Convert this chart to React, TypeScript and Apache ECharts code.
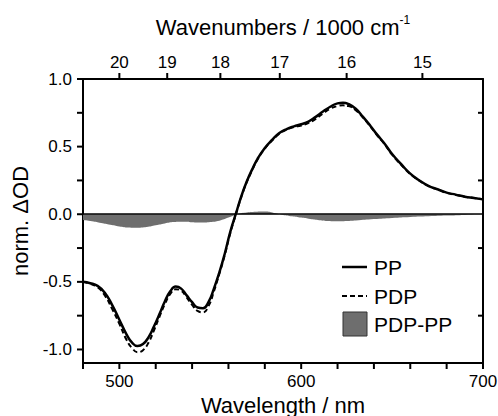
import React, { useEffect, useRef } from "react";
import * as echarts from "echarts";

// Wavelength grid (nm) for the PP and PDP traces
const wavelengths = [
  480, 484, 488, 492, 496, 500, 504, 507, 510, 513, 516, 519, 522, 525, 528, 531, 534, 537, 540, 543, 546, 549,
  552, 555, 558, 561, 564, 567, 570, 573, 576, 580, 584, 588, 592, 596, 600, 604, 608, 612, 616, 620, 623, 626,
  630, 634, 638, 642, 646, 650, 655, 660, 665, 670, 675, 680, 685, 690, 695, 700,
];
const ppValues = [
  -0.5, -0.51, -0.53, -0.58, -0.67, -0.78, -0.89, -0.95, -0.975, -0.96, -0.91, -0.83, -0.74, -0.645, -0.57, -0.535,
  -0.55, -0.6, -0.65, -0.69, -0.695, -0.65, -0.55, -0.43, -0.29, -0.13, 0.0, 0.13, 0.24, 0.33, 0.41, 0.49, 0.55, 0.6,
  0.63, 0.65, 0.665, 0.685, 0.72, 0.76, 0.795, 0.82, 0.825, 0.815, 0.78, 0.72, 0.655, 0.585, 0.52, 0.445, 0.37, 0.3,
  0.25, 0.21, 0.185, 0.16, 0.145, 0.13, 0.12, 0.11,
];
const pdpValues = [
  -0.5, -0.515, -0.54, -0.6, -0.7, -0.81, -0.93, -0.99, -1.02, -1.005, -0.95, -0.86, -0.76, -0.665, -0.59, -0.555,
  -0.565, -0.615, -0.67, -0.715, -0.725, -0.68, -0.57, -0.44, -0.3, -0.14, -0.005, 0.125, 0.235, 0.325, 0.405, 0.485,
  0.545, 0.595, 0.625, 0.645, 0.655, 0.675, 0.705, 0.745, 0.78, 0.8, 0.805, 0.8, 0.77, 0.715, 0.65, 0.58, 0.515, 0.44,
  0.365, 0.297, 0.248, 0.208, 0.183, 0.158, 0.143, 0.13, 0.12, 0.11,
];

// Difference trace PDP-PP
const diffWavelengths = [
  480, 485, 490, 495, 500, 505, 510, 515, 520, 525, 530, 535, 540, 545, 550, 555, 560, 565, 570, 575, 580, 585, 590,
  595, 600, 605, 610, 615, 620, 625, 630, 640, 650, 660, 670, 680, 690, 700,
];
const diffValues = [
  -0.042, -0.052, -0.065, -0.078, -0.09, -0.098, -0.1, -0.095, -0.082, -0.068, -0.058, -0.056, -0.06, -0.062, -0.058,
  -0.048, -0.025, 0.0, 0.012, 0.018, 0.02, 0.01, -0.005, -0.015, -0.025, -0.035, -0.044, -0.05, -0.052, -0.05, -0.046,
  -0.036, -0.027, -0.02, -0.015, -0.01, -0.005, 0.0,
];

// Axis ticks
const wavelengthTicks = [480, 500, 520, 540, 560, 580, 600, 620, 640, 660, 680, 700];
const wavelengthLabels = [500, 600, 700];
const wavenumberLabels = [20, 19, 18, 17, 16, 15]; // 1000 cm^-1
const yTicks = [-1, -0.75, -0.5, -0.25, 0, 0.25, 0.5, 0.75, 1];
const yLabels = [-1, -0.5, 0, 0.5, 1];
const yRightTicks = [-0.75, -0.25, 0.25, 0.75];

const X_MIN = 480;
const X_MAX = 700;
const Y_MIN = -1.1;
const Y_MAX = 1.0;

const FONT = "'Liberation Sans', Arial, sans-serif";

function axisLine() {
  return { show: true, onZero: false, lineStyle: { color: "#000", width: 2 } };
}

// Tick marks drawn through the axes' scales with a custom series
function tickSeries(values: number[], side: string, len: number) {
  const data = values.map((v) =>
    side === "bottom" ? [v, Y_MIN] : side === "top" ? [v, Y_MAX] : side === "left" ? [X_MIN, v] : [X_MAX, v]
  );
  return {
    type: "custom",
    clip: false,
    z: 10,
    data,
    renderItem: (_p: any, api: any) => {
      const p = api.coord([api.value(0), api.value(1)]);
      let dx = 0;
      let dy = 0;
      if (side === "bottom") dy = len;
      else if (side === "top") dy = -len;
      else dx = -len; // left: outward; right: inward
      return {
        type: "line",
        shape: { x1: p[0], y1: p[1], x2: p[0] + dx, y2: p[1] + dy },
        style: { stroke: "#000", lineWidth: 2 },
      };
    },
  };
}

export default function App() {
  const ref = useRef<HTMLDivElement>(null);
  useEffect(() => {
    if (!ref.current) return;
    const chart = echarts.init(ref.current, null, { renderer: "svg" });
    const wnPositions = wavenumberLabels.map((k) => 10000 / k);
    chart.setOption({
      animation: false,
      backgroundColor: "#fff",
      grid: { left: 83, right: 15, top: 79, bottom: 53, outerBoundsMode: "none" },
      xAxis: [
        {
          type: "value",
          position: "bottom",
          min: X_MIN,
          max: X_MAX,
          axisLine: axisLine(),
          axisTick: { show: false },
          axisLabel: {
            customValues: wavelengthLabels,
            color: "#000",
            fontSize: 17,
            fontFamily: FONT,
            margin: 10,
          },
          splitLine: { show: false },
          name: "Wavelength / nm",
          nameLocation: "middle",
          nameGap: 28,
          nameTextStyle: { color: "#000", fontSize: 22, fontFamily: FONT },
        },
        {
          type: "value",
          position: "top",
          min: X_MIN,
          max: X_MAX,
          axisLine: axisLine(),
          axisTick: { show: false },
          axisLabel: {
            customValues: wnPositions,
            formatter: (v: number) => String(Math.round(10000 / v)),
            color: "#000",
            fontSize: 17,
            fontFamily: FONT,
            margin: 8,
          },
          splitLine: { show: false },
          name: "{a|Wavenumbers / 1000 cm}{s|-1}",
          nameLocation: "middle",
          nameGap: 41,
          nameTextStyle: {
            color: "#000",
            fontFamily: FONT,
            rich: {
              a: { fontSize: 22, fontFamily: FONT, color: "#000", lineHeight: 24, verticalAlign: "bottom" },
              s: { fontSize: 12, fontFamily: FONT, color: "#000", lineHeight: 24, verticalAlign: "top" },
            },
          },
        },
      ],
      yAxis: [
        {
          type: "value",
          position: "left",
          min: Y_MIN,
          max: Y_MAX,
          axisLine: axisLine(),
          axisTick: { show: false },
          axisLabel: {
            customValues: yLabels,
            formatter: (v: number) => v.toFixed(1),
            color: "#000",
            fontSize: 17,
            fontFamily: FONT,
            margin: 11,
          },
          splitLine: { show: false },
          name: "norm. \u0394OD",
          nameLocation: "middle",
          nameGap: 46,
          nameTextStyle: { color: "#000", fontSize: 22, fontFamily: FONT },
        },
        {
          type: "value",
          position: "right",
          min: Y_MIN,
          max: Y_MAX,
          axisLine: axisLine(),
          axisTick: { show: false },
          axisLabel: { show: false },
          splitLine: { show: false },
        },
      ],
      series: [
        {
          name: "PDP-PP",
          type: "line",
          data: diffWavelengths.map((w, i) => [w, diffValues[i]]),
          smooth: true,
          symbol: "none",
          lineStyle: { width: 0 },
          areaStyle: { color: "#6e6e6e", opacity: 1, origin: 0 },
          z: 1,
          markLine: {
            silent: true,
            symbol: "none",
            label: { show: false },
            lineStyle: { color: "#000", width: 1.5, type: "solid" },
            data: [{ yAxis: 0 }],
          },
        },
        {
          name: "PDP",
          type: "line",
          data: wavelengths.map((w, i) => [w, pdpValues[i]]),
          smooth: true,
          symbol: "none",
          lineStyle: { color: "#000", width: 2, type: [5, 3] },
          z: 3,
        },
        {
          name: "PP",
          type: "line",
          data: wavelengths.map((w, i) => [w, ppValues[i]]),
          smooth: true,
          symbol: "none",
          lineStyle: { color: "#000", width: 2.5 },
          z: 4,
        },
        tickSeries(wavelengthTicks, "bottom", 6),
        tickSeries(wnPositions, "top", 6),
        tickSeries(yTicks, "left", 6),
        tickSeries(yRightTicks, "right", 5),
      ],
      graphic: [
        { type: "line", shape: { x1: 342, y1: 267, x2: 367, y2: 267 }, style: { stroke: "#000", lineWidth: 2.5 } },
        {
          type: "text",
          x: 374,
          y: 267,
          style: { text: "PP", fontSize: 21, fontFamily: FONT, fill: "#000", verticalAlign: "middle" },
        },
        {
          type: "line",
          shape: { x1: 342, y1: 296, x2: 367, y2: 296 },
          style: { stroke: "#000", lineWidth: 2, lineDash: [5, 3] },
        },
        {
          type: "text",
          x: 374,
          y: 296,
          style: { text: "PDP", fontSize: 21, fontFamily: FONT, fill: "#000", verticalAlign: "middle" },
        },
        {
          type: "rect",
          shape: { x: 343, y: 312, width: 24, height: 24 },
          style: { fill: "#6e6e6e", stroke: "#333", lineWidth: 1 },
        },
        {
          type: "text",
          x: 374,
          y: 324,
          style: { text: "PDP-PP", fontSize: 21, fontFamily: FONT, fill: "#000", verticalAlign: "middle" },
        },
      ],
    });
    return () => chart.dispose();
  }, []);
  return (
    <div
      ref={ref}
      style={{ position: "absolute", left: 0, top: 0, width: 498, height: 416, background: "#fff" }}
    />
  );
}
